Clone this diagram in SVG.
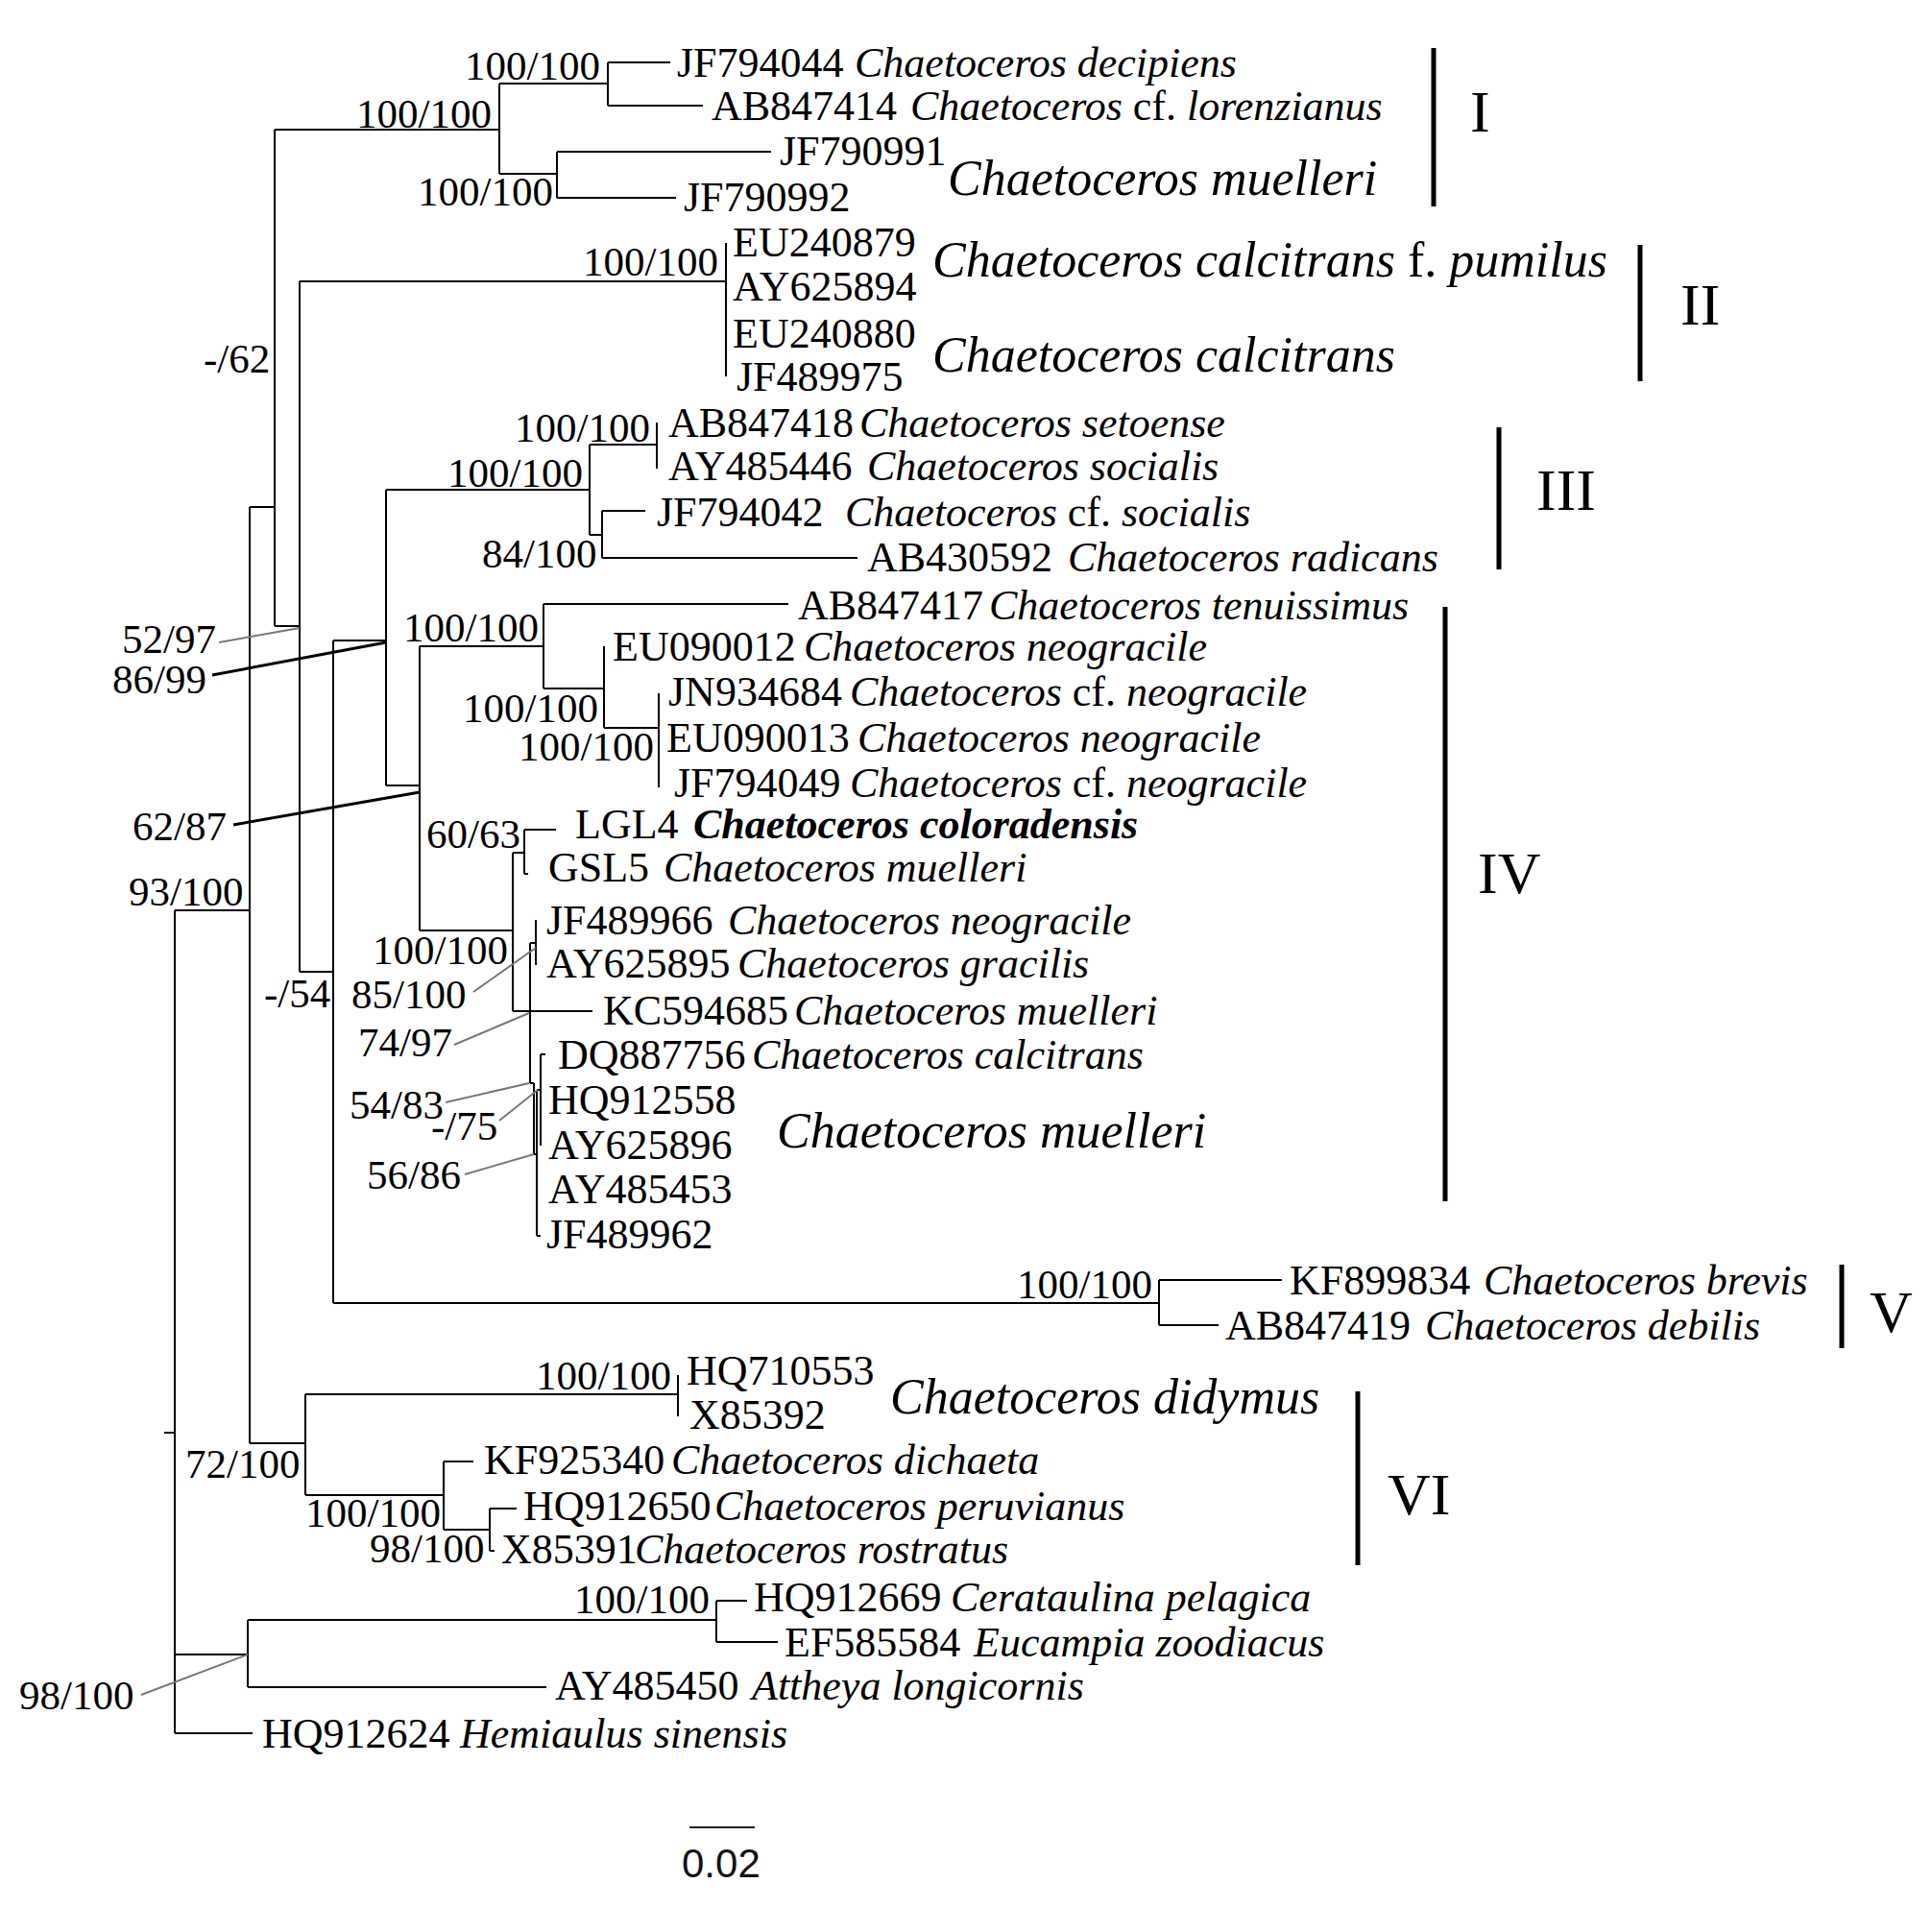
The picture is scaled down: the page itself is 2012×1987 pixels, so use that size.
<svg xmlns="http://www.w3.org/2000/svg" width="2012" height="1987" viewBox="0 0 2012 1987">
<style>
.t{font-family:"Liberation Serif","Times New Roman",serif;font-size:44px;fill:#000}
.s{font-family:"Liberation Serif","Times New Roman",serif;font-size:43px;fill:#000}
.i{font-style:italic}
.b{font-weight:bold}
.big{font-size:52px}
.cl{font-family:"Liberation Serif","Times New Roman",serif;font-size:62px;fill:#000}
.br{fill:none;stroke:#000;stroke-width:2}
.pg{stroke:#777;stroke-width:2}
.pk{stroke:#000;stroke-width:3}
.bar{stroke:#000;stroke-width:5}
</style>
<rect width="2012" height="1987" fill="#fff"/>
<g id="connectors">
<path class="br" d="M171,1492H182 M182,948V1805 M182,948H260 M260,528V1503 M260,528H286 M286,135V652 M286,135H520 M520,87V181 M520,87H633 M633,65V110 M633,65H698 M633,110H732 M520,181H580 M580,158V206 M580,158H803 M580,206H704 M286,652H312 M312,293V1012 M312,293H756 M756,253V392 M312,1012H347 M347,667V1357 M347,667H402 M402,510V818 M402,510H614 M614,463V557 M614,463H684 M684,440V488 M614,557H627 M627,532V581 M627,532H672 M627,581H893 M402,818H437 M437,673V969 M437,673H566 M566,629V717 M566,629H821 M566,717H629 M629,673V758 M629,758H686 M686,722V820 M437,969H534 M534,888V1053 M534,888H546 M546,864V910 M546,864H579 M546,910H550 M534,1053H617 M552,982V1128 M552,982H558 M558,958V1005 M552,1128H556 M556,1128V1202 M556,1202H559 M559,1135V1287 M559,1287H563 M559,1135H563 M563,1098V1193 M563,1098H568 M347,1357H1207 M1207,1333V1380 M1207,1333H1335 M1207,1380H1269 M260,1503H318 M318,1452V1557 M318,1452H706 M706,1432V1475 M318,1557H462 M462,1522V1593 M462,1522H493 M462,1593H510 M510,1571V1615 M510,1571H538 M510,1615H515 M182,1723H258 M258,1687V1757 M258,1687H746 M746,1667V1710 M746,1667H778 M746,1710H810 M258,1757H569 M182,1805H263"/>
<line class="pg" x1="228" y1="669" x2="312" y2="654"/>
<line class="pk" x1="221" y1="703" x2="402" y2="669"/>
<line class="pk" x1="243" y1="859" x2="437" y2="825"/>
<line class="pg" x1="493" y1="1033" x2="558" y2="987"/>
<line class="pg" x1="473" y1="1088" x2="551" y2="1055"/>
<line class="pg" x1="464" y1="1148" x2="551" y2="1128"/>
<line class="pg" x1="520" y1="1167" x2="560" y2="1135"/>
<line class="pg" x1="484" y1="1223" x2="556" y2="1202"/>
<line class="pg" x1="147" y1="1765" x2="258" y2="1723"/>
</g>
<g id="supports" class="s">
<text x="484" y="83">100/100</text>
<text x="371" y="133">100/100</text>
<text x="435" y="214">100/100</text>
<text x="607" y="287">100/100</text>
<text x="212" y="388">-/62</text>
<text x="536" y="460">100/100</text>
<text x="466" y="507">100/100</text>
<text x="502" y="591">84/100</text>
<text x="127" y="680">52/97</text>
<text x="117" y="722">86/99</text>
<text x="420" y="668">100/100</text>
<text x="482" y="752">100/100</text>
<text x="540" y="792">100/100</text>
<text x="138" y="875">62/87</text>
<text x="444" y="883">60/63</text>
<text x="134" y="943">93/100</text>
<text x="388" y="1004">100/100</text>
<text x="366" y="1050">85/100</text>
<text x="275" y="1049">-/54</text>
<text x="373" y="1100">74/97</text>
<text x="364" y="1165">54/83</text>
<text x="449" y="1187">-/75</text>
<text x="382" y="1238">56/86</text>
<text x="1059" y="1352">100/100</text>
<text x="558" y="1447">100/100</text>
<text x="193" y="1539">72/100</text>
<text x="318" y="1590">100/100</text>
<text x="385" y="1627">98/100</text>
<text x="598" y="1680">100/100</text>
<text x="20" y="1780">98/100</text>
</g>
<g id="tip-JF794044"><text class="t" y="80"><tspan x="705">JF794044</tspan><tspan x="890" class="i">Chaetoceros decipiens</tspan></text></g>
<g id="tip-AB847414"><text class="t" y="125"><tspan x="741">AB847414</tspan><tspan x="948" class="i">Chaetoceros</tspan><tspan> cf. </tspan><tspan class="i">lorenzianus</tspan></text></g>
<g id="tip-JF790991"><text class="t" x="812" y="172">JF790991</text></g>
<g id="tip-JF790992"><text class="t" x="712" y="220">JF790992</text></g>
<g id="name-I-muelleri"><text class="t i big" x="987" y="203">Chaetoceros muelleri</text></g>
<g id="tip-EU240879"><text class="t" x="763" y="267">EU240879</text></g>
<g id="tip-AY625894"><text class="t" x="763" y="313">AY625894</text></g>
<g id="tip-EU240880"><text class="t" x="763" y="362">EU240880</text></g>
<g id="tip-JF489975"><text class="t" x="767" y="407">JF489975</text></g>
<g id="name-II-pumilus"><text class="t big" x="971" y="288"><tspan class="i">Chaetoceros calcitrans</tspan> f. <tspan class="i">pumilus</tspan></text></g>
<g id="name-II-calcitrans"><text class="t i big" x="971" y="387">Chaetoceros calcitrans</text></g>
<g id="tip-AB847418"><text class="t" y="455"><tspan x="696">AB847418</tspan><tspan x="895" class="i">Chaetoceros setoense</tspan></text></g>
<g id="tip-AY485446"><text class="t" y="500"><tspan x="696">AY485446</tspan><tspan x="903" class="i">Chaetoceros socialis</tspan></text></g>
<g id="tip-JF794042"><text class="t" y="548"><tspan x="684">JF794042</tspan><tspan x="880" class="i">Chaetoceros</tspan><tspan> cf. </tspan><tspan class="i">socialis</tspan></text></g>
<g id="tip-AB430592"><text class="t" y="595"><tspan x="903">AB430592</tspan><tspan x="1112" class="i">Chaetoceros radicans</tspan></text></g>
<g id="tip-AB847417"><text class="t" y="645"><tspan x="831">AB847417</tspan><tspan x="1030" class="i">Chaetoceros tenuissimus</tspan></text></g>
<g id="tip-EU090012"><text class="t" y="688"><tspan x="638">EU090012</tspan><tspan x="837" class="i">Chaetoceros neogracile</tspan></text></g>
<g id="tip-JN934684"><text class="t" y="735"><tspan x="696">JN934684</tspan><tspan x="885" class="i">Chaetoceros</tspan><tspan> cf. </tspan><tspan class="i">neogracile</tspan></text></g>
<g id="tip-EU090013"><text class="t" y="783"><tspan x="694">EU090013</tspan><tspan x="893" class="i">Chaetoceros neogracile</tspan></text></g>
<g id="tip-JF794049"><text class="t" y="830"><tspan x="702">JF794049</tspan><tspan x="885" class="i">Chaetoceros</tspan><tspan> cf. </tspan><tspan class="i">neogracile</tspan></text></g>
<g id="tip-LGL4"><text class="t" y="873"><tspan x="599">LGL4</tspan><tspan x="722" class="i b">Chaetoceros coloradensis</tspan></text></g>
<g id="tip-GSL5"><text class="t" y="918"><tspan x="571">GSL5</tspan><tspan x="691" class="i">Chaetoceros muelleri</tspan></text></g>
<g id="tip-JF489966"><text class="t" y="973"><tspan x="569">JF489966</tspan><tspan x="758" class="i">Chaetoceros neogracile</tspan></text></g>
<g id="tip-AY625895"><text class="t" y="1018"><tspan x="569">AY625895</tspan><tspan x="768" class="i">Chaetoceros gracilis</tspan></text></g>
<g id="tip-KC594685"><text class="t" y="1067"><tspan x="628">KC594685</tspan><tspan x="827" class="i">Chaetoceros muelleri</tspan></text></g>
<g id="tip-DQ887756"><text class="t" y="1113"><tspan x="581">DQ887756</tspan><tspan x="783" class="i">Chaetoceros calcitrans</tspan></text></g>
<g id="tip-HQ912558"><text class="t" x="571" y="1160">HQ912558</text></g>
<g id="tip-AY625896"><text class="t" x="571" y="1207">AY625896</text></g>
<g id="tip-AY485453"><text class="t" x="571" y="1253">AY485453</text></g>
<g id="tip-JF489962"><text class="t" x="569" y="1300">JF489962</text></g>
<g id="name-IV-muelleri"><text class="t i big" x="809" y="1195">Chaetoceros muelleri</text></g>
<g id="tip-KF899834"><text class="t" y="1348"><tspan x="1343">KF899834</tspan><tspan x="1545" class="i">Chaetoceros brevis</tspan></text></g>
<g id="tip-AB847419"><text class="t" y="1395"><tspan x="1276">AB847419</tspan><tspan x="1484" class="i">Chaetoceros debilis</tspan></text></g>
<g id="tip-HQ710553"><text class="t" x="715" y="1442">HQ710553</text></g>
<g id="tip-X85392"><text class="t" x="718" y="1488">X85392</text></g>
<g id="name-VI-didymus"><text class="t i big" x="927" y="1472">Chaetoceros didymus</text></g>
<g id="tip-KF925340"><text class="t" y="1535"><tspan x="504">KF925340</tspan><tspan x="699" class="i">Chaetoceros dichaeta</tspan></text></g>
<g id="tip-HQ912650"><text class="t" y="1583"><tspan x="545">HQ912650</tspan><tspan x="744" class="i">Chaetoceros peruvianus</tspan></text></g>
<g id="tip-X85391"><text class="t" y="1628"><tspan x="522">X85391</tspan><tspan x="661" class="i">Chaetoceros rostratus</tspan></text></g>
<g id="tip-HQ912669"><text class="t" y="1678"><tspan x="785">HQ912669</tspan><tspan x="990" class="i">Cerataulina pelagica</tspan></text></g>
<g id="tip-EF585584"><text class="t" y="1725"><tspan x="817">EF585584</tspan><tspan x="1014" class="i">Eucampia zoodiacus</tspan></text></g>
<g id="tip-AY485450"><text class="t" y="1770"><tspan x="578">AY485450</tspan><tspan x="783" class="i">Attheya longicornis</tspan></text></g>
<g id="tip-HQ912624"><text class="t" y="1820"><tspan x="273">HQ912624</tspan><tspan x="479" class="i">Hemiaulus sinensis</tspan></text></g>
<g id="clade-I"><line class="bar" x1="1493" y1="50" x2="1493" y2="215"/><text class="cl" x="1531" y="137">I</text></g>
<g id="clade-II"><line class="bar" x1="1708" y1="255" x2="1708" y2="397"/><text class="cl" x="1750" y="338">II</text></g>
<g id="clade-III"><line class="bar" x1="1561" y1="445" x2="1561" y2="593"/><text class="cl" x="1600" y="531">III</text></g>
<g id="clade-IV"><line class="bar" x1="1505" y1="632" x2="1505" y2="1251"/><text class="cl" x="1539" y="930">IV</text></g>
<g id="clade-V"><line class="bar" x1="1918" y1="1317" x2="1918" y2="1404"/><text class="cl" x="1947" y="1387">V</text></g>
<g id="clade-VI"><line class="bar" x1="1414" y1="1449" x2="1414" y2="1630"/><text class="cl" x="1445" y="1577">VI</text></g>
<g id="scale-bar"><line x1="718" y1="1903" x2="786" y2="1903" stroke="#222" stroke-width="2"/><text x="710" y="1955" font-family="'Liberation Sans',Arial,sans-serif" font-size="42" fill="#111">0.02</text></g>
</svg>
